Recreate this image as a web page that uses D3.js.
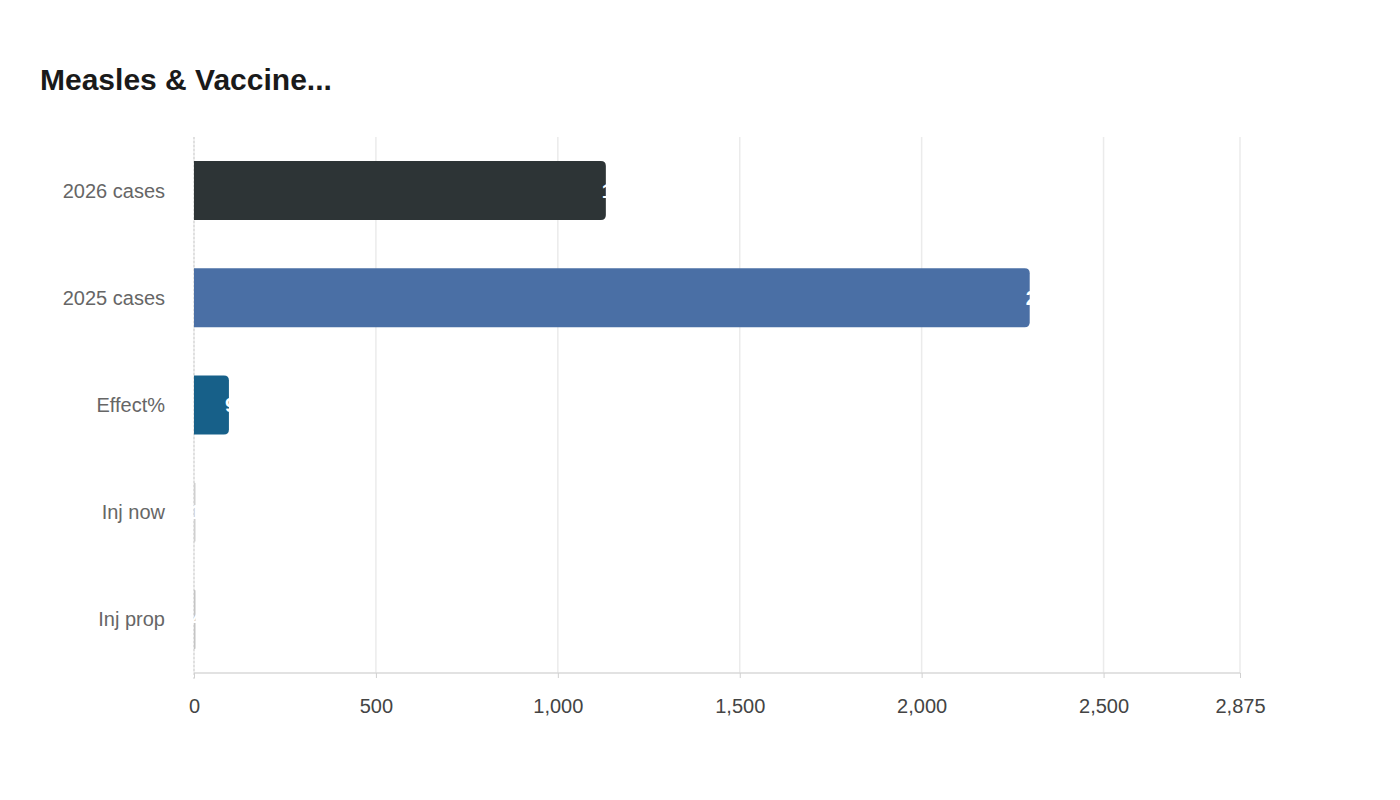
<!DOCTYPE html>
<html><head><meta charset="utf-8">
<script src="https://cdn.jsdelivr.net/npm/d3@7"></script>
<style>body{margin:0;background:#fff;font-family:"Liberation Sans",Arial,sans-serif}</style>
</head><body><svg id="c" width="1400" height="800"></svg>
<script>
const categories = ["2026 cases","2025 cases","Effect%","Inj now","Inj prop"];
const values = [1132, 2297, 96, 1, 4];
const colors = ["#2d3436","#4a6fa5","#176089","#cfcfcf","#c4c4c4"];
const tickValues = [0,500,1000,1500,2000,2500,2875];
const xMax = 2875;

const svg = d3.select("#c");
const m = {l:194, r:1240, t:137, b:673};
svg.append("text").attr("x",40).attr("y",90).text("Measles & Vaccine...")
  .attr("font-size",30).attr("font-weight","bold").attr("fill","#1a1a1a");

const x = d3.scaleLinear().domain([0,xMax]).range([m.l,m.r]);
const y = d3.scaleBand().domain(categories).range([m.t,m.b]).paddingInner(0.45).paddingOuter(0.225);

svg.append("g").selectAll("line").data(tickValues).join("line")
  .attr("x1",d=>x(d)).attr("x2",d=>x(d)).attr("y1",m.t).attr("y2",m.b)
  .attr("stroke","#ebebeb").attr("stroke-width",1.5);
svg.append("line").attr("x1",m.l).attr("x2",m.r).attr("y1",m.b).attr("y2",m.b).attr("stroke","#d9d9d9").attr("stroke-width",1.5);
svg.append("line").attr("x1",m.l).attr("x2",m.l).attr("y1",m.t).attr("y2",m.b+6).attr("stroke","#cfcfcf").attr("stroke-dasharray","2,2");

const xa = svg.append("g").attr("transform",`translate(0,${m.b})`)
  .call(d3.axisBottom(x).tickValues(tickValues).tickFormat(d3.format(",")).tickSize(5));
xa.select(".domain").remove();
xa.selectAll("line").attr("stroke","#d0d0d0");
xa.selectAll("text").attr("font-size",20).attr("fill","#444").attr("dy","1.6em").attr("font-family","Liberation Sans, Arial, sans-serif");

svg.append("g").selectAll("text").data(categories).join("text")
  .attr("x",m.l-29).attr("y",d=>y(d)+y.bandwidth()/2).attr("dy","0.35em")
  .attr("text-anchor","end").attr("font-size",20).attr("fill","#666").text(d=>d);

const defs = svg.append("defs");
categories.forEach((c,i)=>{
  defs.append("clipPath").attr("id","cp"+i).append("rect")
    .attr("x",x(0)).attr("y",y(c)).attr("width",Math.max(1,x(values[i])-x(0))).attr("height",y.bandwidth());
});
svg.append("g").selectAll("path").data(categories).join("path")
  .attr("d",(c,i)=>{const w=Math.max(1.5,x(values[i])-x(0)), h=y.bandwidth(), r=Math.min(5,w/2), x0=x(0), y0=y(c);
    return `M${x0},${y0}H${x0+w-r}Q${x0+w},${y0} ${x0+w},${y0+r}V${y0+h-r}Q${x0+w},${y0+h} ${x0+w-r},${y0+h}H${x0}Z`;})
  .attr("fill",(c,i)=>colors[i]);
svg.append("g").selectAll("text").data(categories).join("text")
  .attr("x",(c,i)=>x(values[i])-4).attr("y",c=>y(c)+y.bandwidth()/2).attr("dy","0.35em")
  .attr("fill","#fff").attr("font-weight","bold").attr("font-size",20)
  .text((c,i)=>d3.format(",")(values[i]));
</script></body></html>
